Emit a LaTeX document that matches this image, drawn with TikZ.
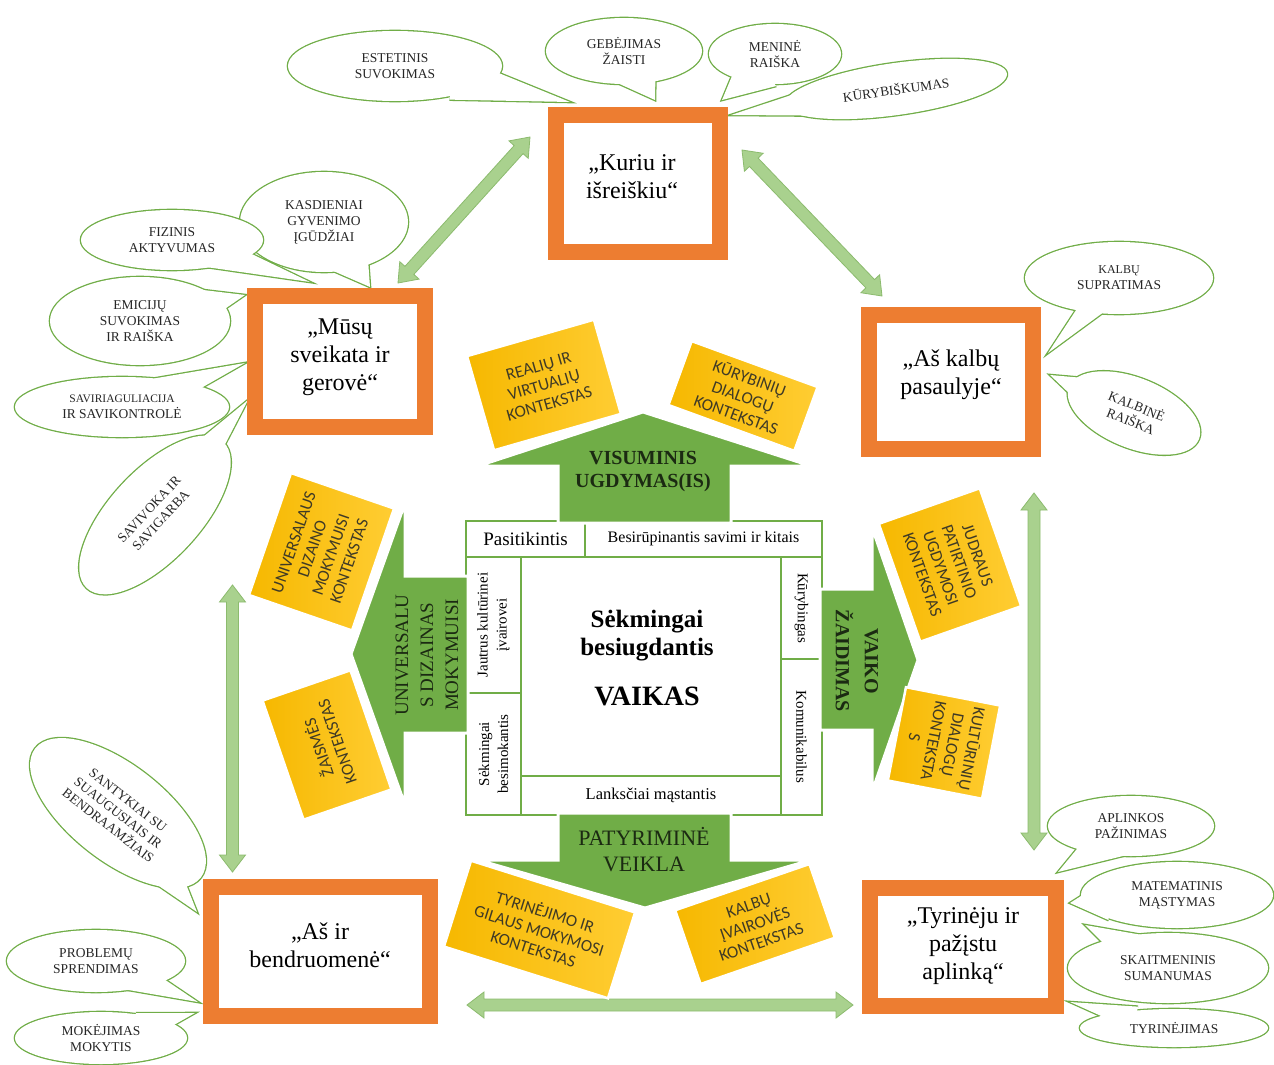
\documentclass[tikz,border=0pt]{standalone}
\usepackage{fontspec}
\setmainfont{Liberation Serif}
\newfontfamily\carl{Carlito}
\usetikzlibrary{calc}
\definecolor{ogreen}{HTML}{70AD47}
\definecolor{lgreen}{HTML}{A9D18E}
\definecolor{lgreenb}{HTML}{8CBB6E}
\definecolor{orng}{HTML}{ED7D31}
\definecolor{ylwa}{HTML}{F6B800}
\definecolor{ylwb}{HTML}{FFCD33}
\definecolor{ytxt}{HTML}{3F3A26}
\definecolor{arrtxt}{HTML}{1B2A12}
\definecolor{bubtxt}{HTML}{262626}

\newcommand{\bub}[9]{%
  \coordinate (bb) at ($(#2)!#7pt!(#6)$);
  \coordinate (bl) at ($(bb)!#8pt!90:(#6)$);
  \coordinate (br) at ($(bb)!#8pt!-90:(#6)$);
  \draw[bubline, rotate around={#5:(#2)}] (#2) ellipse [x radius=#3pt, y radius=#4pt];
  \draw[bubline] (bl) -- (#6) -- (br);
  \fill[white, rotate around={#5:(#2)}] (#2) ellipse [x radius=#3pt, y radius=#4pt];
  \fill[white] (bl) -- (#6) -- (br) -- cycle;
  \node[bubtext, rotate=#5] (#1) at (#2) {#9};
}
\newcommand{\dblarr}[2]{%
  \coordinate (da1) at ($(#1)!17pt!(#2)$);
  \coordinate (da2) at ($(#2)!17pt!(#1)$);
  \filldraw[fill=lgreen, draw=lgreenb, line width=0.8pt, line join=miter]
   (#1) -- ($(da1)!13pt!90:(#2)$) -- ($(da1)!6pt!90:(#2)$) -- ($(da2)!6pt!-90:(#1)$)
   -- ($(da2)!13pt!-90:(#1)$) -- (#2) -- ($(da2)!13pt!90:(#1)$) -- ($(da2)!6pt!90:(#1)$)
   -- ($(da1)!6pt!-90:(#2)$) -- ($(da1)!13pt!-90:(#2)$) -- cycle;
}

\begin{document}
\begin{tikzpicture}[x=1pt,y=-1pt,
  bubline/.style={draw=ogreen, line width=2.6pt, line join=miter},
  bubtext/.style={align=center, font=\fontsize{13.5}{16}\selectfont, text=bubtxt, inner sep=0pt},
  obox/.style={draw=orng, line width=16pt, fill=white, inner sep=0pt},
  btext/.style={align=center, font=\fontsize{24}{28}\selectfont, inner sep=0pt},
  cell/.style={draw=ogreen, line width=2pt, fill=white, inner sep=0pt, align=center, font=\fontsize{15}{19}\selectfont},
  garrow/.style={fill=ogreen, draw=white, line width=3pt, line join=miter},
  atext/.style={align=center, text=arrtxt, inner sep=0pt},
  ybox/.style={draw=white, line width=2.5pt, left color=ylwa, right color=ylwb, align=center, inner sep=0pt,
     font=\carl\fontsize{17}{19.5}\selectfont, text=ytxt}
]
\fill[white] (0,0) rectangle (1274,1065);
\useasboundingbox (0,0) rectangle (1274,1065);

% ---------- speech bubbles ----------
\bub{est}{395,66}{107}{35}{0}{570,102}{60}{22}{ESTETINIS\\SUVOKIMAS}
\bub{geb}{624,51}{78}{33}{0}{655,100}{20}{25}{GEBĖJIMAS\\ŽAISTI}
\bub{kurb}{896,89}{112}{26}{8}{731,115}{70}{16}{KŪRYBIŠKUMAS}
\bub{men}{775,54}{66}{30}{0}{722,100}{20}{25}{MENINĖ\\RAIŠKA}

\bub{kasd}{324,222}{84}{50}{0}{370,287}{30}{30}{KASDIENIAI\\GYVENIMO\\ĮGŪDŽIAI}
\bub{fiz}{172,240}{91}{30}{0}{310,282}{40}{16}{FIZINIS\\AKTYVUMAS}
\bub{emi}{140,321}{90}{44}{0}{245,295}{50}{22}{EMICIJŲ\\SUVOKIMAS\\IR RAIŠKA}
\bub{sav}{122,407}{107}{30}{0}{245,363}{40}{16}{\fontsize{11.5}{14}\selectfont SAVIRIAGULIACIJA\\IR SAVIKONTROLĖ}
\bub{savi}{155,515}{100}{45}{47}{248,400}{60}{18}{SAVIVOKA IR\\SAVIGARBA}

\bub{sup}{1119,278}{94}{36}{0}{1048,353}{15}{16}{\fontsize{12}{15}\selectfont KALBŲ\\SUPRATIMAS}
\bub{kbin}{1134,413}{70}{35}{-22}{1050,375}{35}{20}{KALBINĖ\\RAIŠKA}

\bub{apl}{1131,826}{83}{30}{0}{1058,872}{20}{22}{APLINKOS\\PAŽINIMAS}
\bub{mat}{1177,895}{96}{33}{0}{1070,903}{70}{20}{MATEMATINIS\\MĄSTYMAS}
\bub{skm}{1168,968}{100}{35}{0}{1085,925}{30}{20}{SKAITMENINIS\\SUMANUMAS}
\bub{tyrm}{1174,1028}{94}{19}{0}{1070,1002}{40}{12}{TYRINĖJIMAS}

\bub{sant}{118,813}{105}{48}{-38}{197,912}{55}{22}{SANTYKIAI SU\\SUAUGUSIAIS IR\\BENDRAAMŽIAIS}
\bub{prob}{96,961}{89}{31}{0}{198,1002}{40}{15}{PROBLEMŲ\\SPRENDIMAS}
\bub{mok}{101,1038}{86}{26}{0}{195,1013}{40}{15}{MOKĖJIMAS\\MOKYTIS}

% ---------- light green double arrows ----------
\coordinate (d1a) at (398,283); \coordinate (d1b) at (530,137);
\coordinate (d2a) at (742,150); \coordinate (d2b) at (882,296);
\coordinate (d3a) at (1034,493); \coordinate (d3b) at (1034,850);
\coordinate (d4a) at (232.5,585); \coordinate (d4b) at (232.5,872);
\coordinate (d5a) at (467,1005); \coordinate (d5b) at (853,1005);
\dblarr{d1a}{d1b}
\dblarr{d2a}{d2b}
\dblarr{d3a}{d3b}
\dblarr{d4a}{d4b}
\dblarr{d5a}{d5b}

% ---------- orange boxes ----------
\node[obox, minimum width=164pt, minimum height=137pt] (kuriu) at (638,183.5) {};
\node[obox, minimum width=170pt, minimum height=131pt] (musu) at (340,361.5) {};
\node[obox, minimum width=164pt, minimum height=134pt] (kalbu) at (951,382) {};
\node[obox, minimum width=219pt, minimum height=129pt] (bendr) at (320.5,951.5) {};
\node[obox, minimum width=186pt, minimum height=118pt] (tyr) at (963,947) {};
\node[btext] (kuriuT) at (632,177) {„Kuriu ir\\išreiškiu“};
\node[btext] (musuT) at (340,357) {„Mūsų\\sveikata ir\\gerovė“};
\node[btext] (kalbuT) at (951,375) {„Aš kalbų\\pasaulyje“};
\node[btext] (bendrT) at (320,945) {„Aš ir\\bendruomenė“};
\node[btext] (tyrT) at (963,946.5) {„Tyrinėju ir\\pažįstu\\aplinką“};

% ---------- centre frame ----------
\node[cell, minimum width=119pt, minimum height=36pt, font=\fontsize{19}{22}\selectfont] (pas) at (525.5,539) {Pasitikintis};
\node[cell, minimum width=237pt, minimum height=36pt, font=\fontsize{16}{19}\selectfont] (bes) at (703.5,539) {Besirūpinantis savimi ir kitais};
\node[cell, rotate=90, minimum width=136pt, minimum height=55pt] (jau) at (493.5,625) {Jautrus kultūrinei\\įvairovei};
\node[cell, rotate=90, minimum width=122pt, minimum height=55pt] (sek) at (493.5,754) {Sėkmingai\\besimokantis};
\node[cell, rotate=-90, minimum width=102pt, minimum height=41pt] (kury) at (801.5,608) {Kūrybingas};
\node[cell, rotate=-90, minimum width=156pt, minimum height=41pt] (komu) at (801.5,737) {Komunikabilus};
\node[cell, minimum width=260pt, minimum height=39pt, font=\fontsize{16.5}{19}\selectfont] (lan) at (651,795.5) {Lanksčiai mąstantis};
\node[cell, minimum width=260pt, minimum height=219pt] (vaik) at (651,666.5) {};
\node[align=center, inner sep=0pt, font=\bfseries\fontsize{25}{28}\selectfont] (sekT) at (647,636) {Sėkmingai\\besiugdantis};
\node[inner sep=0pt, font=\bfseries\fontsize{28}{30}\selectfont] (vaikT) at (647,696) {VAIKAS};

% ---------- green block arrows ----------
\path[garrow] (643,412) -- (811,466) -- (731,466) -- (731,523) -- (558,523) -- (558,466) -- (478,466) -- cycle;
\path[garrow] (558,813) -- (731,813) -- (731,860) -- (811,860) -- (645,908) -- (478,860) -- (558,860) -- cycle;
\path[garrow] (351,654) -- (405,503) -- (405,576) -- (468,576) -- (468,733) -- (405,733) -- (405,805) -- cycle;
\path[garrow] (820,589) -- (872,589) -- (872,527) -- (918,660) -- (872,792) -- (872,730) -- (820,730) -- cycle;

% ---------- yellow context boxes ----------
\node[ybox, rotate=16, minimum width=132pt, minimum height=98pt] (ya) at (544,385) {REALIŲ IR\\VIRTUALIŲ\\KONTEKSTAS};
\node[ybox, rotate=-20, minimum width=134pt, minimum height=68pt] (yb) at (743,396) {KŪRYBINIŲ\\DIALOGŲ\\KONTEKSTAS};
\node[ybox, rotate=71, minimum width=129pt, minimum height=109pt] (yc) at (321.5,551.75) {UNIVERSALAUS\\DIZAINO\\MOKYMUISI\\KONTEKSTAS};
\node[ybox, rotate=109, minimum width=126pt, minimum height=93pt] (yd) at (327,745) {ŽAISMĖS\\KONTEKSTAS};
\node[ybox, rotate=-70.6, minimum width=125pt, minimum height=107pt] (ye) at (950,565) {JUDRAUS\\PATIRTINIO\\UGDYMOSI\\KONTEKSTAS};
\node[ybox, rotate=-101, minimum width=95pt, minimum height=96pt] (yf) at (944,743) {KULTŪRINIŲ\\DIALOGŲ\\KONTEKSTA\\S};
\node[ybox, rotate=-17.5, minimum width=172pt, minimum height=90pt] (yg) at (539.5,929.5) {TYRINĖJIMO IR\\GILAUS MOKYMOSI\\KONTEKSTAS};
\node[ybox, rotate=19, minimum width=142pt, minimum height=78pt] (yh) at (755,924) {KALBŲ\\ĮVAIROVĖS\\KONTEKSTAS};

% ---------- arrow labels ----------
\node[atext, font=\bfseries\fontsize{20}{23}\selectfont] (vis) at (643,471.5) {VISUMINIS\\UGDYMAS(IS)};
\node[atext, font=\fontsize{22}{26}\selectfont] (pat) at (644,850) {PATYRIMINĖ\\VEIKLA};
\node[atext, rotate=90, font=\fontsize{19}{25}\selectfont] (uni) at (427,655) {UNIVERSALU\\S DIZAINAS\\MOKYMUISI};
\node[atext, rotate=-90, font=\bfseries\fontsize{20}{29}\selectfont] (vai) at (857,661) {VAIKO\\ŽAIDIMAS};
\end{tikzpicture}
\end{document}
